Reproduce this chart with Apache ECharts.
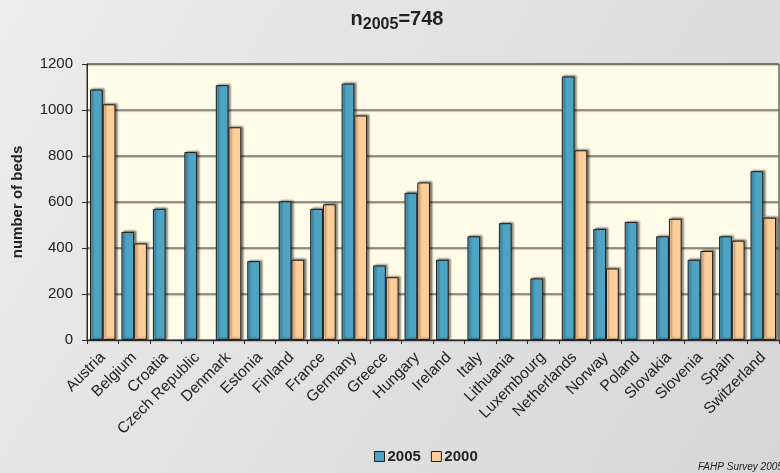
<!DOCTYPE html>
<html>
<head>
<meta charset="utf-8">
<script src="https://cdn.jsdelivr.net/npm/echarts@6/dist/echarts.min.js"></script>
<style>
  html, body { margin: 0; padding: 0; }
  #chart { width: 780px; height: 473px; }
</style>
</head>
<body>
<div id="chart"></div>
<script>
// Hospice / palliative beds per country, survey years 2005 and 2000
const categories = ['Austria', 'Belgium', 'Croatia', 'Czech Republic', 'Denmark', 'Estonia', 'Finland',
  'France', 'Germany', 'Greece', 'Hungary', 'Ireland', 'Italy', 'Lithuania', 'Luxembourg',
  'Netherlands', 'Norway', 'Poland', 'Slovakia', 'Slovenia', 'Spain', 'Switzerland'];
const beds2005 = [1089, 470, 570, 817, 1108, 343, 603, 570, 1115, 324, 640, 349, 451, 508, 268,
  1146, 483, 513, 451, 349, 451, 734];
const beds2000 = [1025, 420, null, null, 925, null, 349, 590, 976, 273, 685, null, null, null, null,
  825, 311, null, 527, 387, 432, 532];
const yTicks = { min: 0, max: 1200, interval: 200 };

const FONT = 'Liberation Sans, Arial, sans-serif';
const barEdge = '#1e1e1e';

const chart = echarts.init(document.getElementById('chart'), null, { renderer: 'canvas' });

const barStyle = (color) => ({
  color: color,
  borderColor: barEdge,
  borderWidth: 1,
  shadowColor: 'rgba(0,0,0,0.45)',
  shadowBlur: 2,
  shadowOffsetX: 2,
  shadowOffsetY: -1
});

chart.setOption({
  backgroundColor: {
    type: 'linear', x: 0, y: 0, x2: 1, y2: 1,
    colorStops: [
      { offset: 0, color: '#ececec' },
      { offset: 1, color: '#d6d6d6' }
    ]
  },
  animation: false,
  textStyle: { fontFamily: FONT },
  title: {
    text: '{n|n}{sub|2005}{n|=748}',
    left: 392,
    textAlign: 'center',
    top: 0,
    textStyle: {
      rich: {
        n: { fontFamily: FONT, fontSize: 20, fontWeight: 'bold', color: '#222', lineHeight: 22 },
        sub: { fontFamily: FONT, fontSize: 16, fontWeight: 'bold', color: '#222', padding: [12, 0, 0, 0] }
      }
    }
  },
  legend: {
    data: ['2005', '2000'],
    left: 369,
    top: 444,
    itemWidth: 10,
    itemHeight: 10,
    itemGap: 10,
    icon: 'rect',
    textStyle: { fontFamily: FONT, fontSize: 15, fontWeight: 'bold', color: '#222', padding: [0, 0, 0, -2] },
    itemStyle: { borderColor: barEdge, borderWidth: 1, shadowBlur: 0, shadowOffsetX: 0, shadowOffsetY: 0 }
  },
  grid: {
    left: 87,
    right: 1,
    top: 64,
    bottom: 133,
    show: true,
    backgroundColor: '#fffbe8',
    borderColor: '#2a2a2a',
    borderWidth: 1
  },
  xAxis: {
    type: 'category',
    data: categories,
    boundaryGap: true,
    axisLine: { lineStyle: { color: '#2a2a2a', width: 1 } },
    axisTick: { show: true, length: 4, alignWithLabel: false, lineStyle: { color: '#2a2a2a' } },
    axisLabel: {
      interval: 0,
      rotate: 45,
      margin: 15,
      fontFamily: FONT,
      fontSize: 15.5,
      color: '#222'
    }
  },
  yAxis: {
    type: 'value',
    min: yTicks.min,
    max: yTicks.max,
    interval: yTicks.interval,
    name: 'number of beds',
    nameLocation: 'middle',
    nameGap: 62,
    nameRotate: 90,
    nameTextStyle: { fontFamily: FONT, fontSize: 15, fontWeight: 'bold', color: '#222' },
    axisLine: { show: true, lineStyle: { color: '#2a2a2a', width: 1 } },
    axisTick: { show: true, length: 5, lineStyle: { color: '#2a2a2a' } },
    axisLabel: { margin: 14, fontFamily: FONT, fontSize: 15, color: '#222', formatter: (v) => String(v) },
    splitLine: {
      show: true,
      lineStyle: {
        color: '#77736a', width: 1.5,
        shadowColor: 'rgba(0,0,0,0.25)', shadowBlur: 1, shadowOffsetY: 1
      }
    }
  },
  series: [
    {
      name: '2005',
      type: 'bar',
      data: beds2005,
      barGap: '0%',
      barCategoryGap: '19%',
      itemStyle: barStyle('#4fa4c4')
    },
    {
      name: '2000',
      type: 'bar',
      data: beds2000,
      itemStyle: barStyle('#ffcf9a')
    }
  ],
  graphic: [
    {
      type: 'text',
      left: 698,
      top: 462,
      style: {
        text: 'FAHP Survey 2005',
        fontFamily: FONT,
        fontSize: 10,
        fontStyle: 'italic',
        fill: '#222'
      }
    }
  ]
});
</script>
</body>
</html>
